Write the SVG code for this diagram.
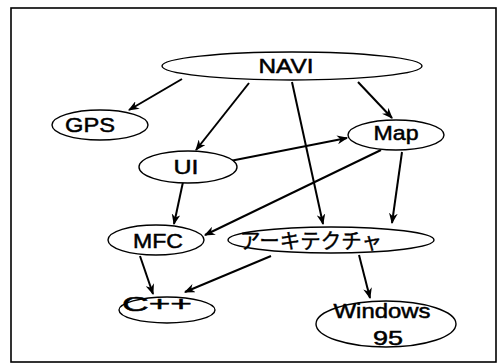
<svg xmlns="http://www.w3.org/2000/svg" width="498" height="364" viewBox="0 0 498 364">
<defs>
<marker id="ah" viewBox="0 0 10 8" refX="9" refY="4" markerWidth="11" markerHeight="9" markerUnits="userSpaceOnUse" orient="auto">
<path d="M0,0 L10,4 L0,8 L3,4 Z" fill="#000"/>
</marker>
</defs>
<style>
.n{fill:#fff;stroke:#000;stroke-width:1.4}
.t{font-family:"Liberation Sans",Arial,sans-serif;font-size:21px;fill:#000;stroke:#000;stroke-width:0.5;text-anchor:middle}
.j{font-family:"Noto Sans CJK JP","Liberation Sans",sans-serif;font-size:21px;fill:#000;stroke:#000;stroke-width:0.4;text-anchor:middle}
.e{stroke:#000;stroke-width:2;fill:none;marker-end:url(#ah)}
</style>
<rect x="11" y="8" width="485" height="354" fill="#fff" stroke="#000" stroke-width="1.6"/>
<g id="connectors">
<line class="e" x1="182" y1="79" x2="129" y2="110"/>
<line class="e" x1="249" y1="83" x2="196" y2="150"/>
<line class="e" x1="292" y1="82" x2="323" y2="224"/>
<line class="e" x1="358" y1="82" x2="392" y2="118"/>
<line class="e" x1="230" y1="161" x2="347" y2="138"/>
<line class="e" x1="381" y1="150" x2="205" y2="235"/>
<line class="e" x1="402" y1="152" x2="392" y2="223"/>
<line class="e" x1="183" y1="182" x2="174" y2="224"/>
<line class="e" x1="140" y1="256" x2="153" y2="294"/>
<line class="e" x1="271" y1="256" x2="185" y2="292"/>
<line class="e" x1="359" y1="255" x2="370" y2="298"/>
</g>
<g id="NAVI">
<ellipse class="n" cx="292" cy="66" rx="130" ry="14"/>
<text class="t" x="286" y="73" textLength="55" lengthAdjust="spacingAndGlyphs">NAVI</text>
</g>
<g id="GPS">
<ellipse class="n" cx="100" cy="125" rx="48" ry="15"/>
<text class="t" x="90" y="132" textLength="50" lengthAdjust="spacingAndGlyphs">GPS</text>
</g>
<g id="Map">
<ellipse class="n" cx="396" cy="135" rx="48" ry="15"/>
<text class="t" x="396" y="140" textLength="45" lengthAdjust="spacingAndGlyphs">Map</text>
</g>
<g id="UI">
<ellipse class="n" cx="188" cy="167" rx="49" ry="16"/>
<text class="t" x="186" y="174" textLength="25" lengthAdjust="spacingAndGlyphs">UI</text>
</g>
<g id="MFC">
<ellipse class="n" cx="156" cy="240" rx="48" ry="15"/>
<text class="t" x="158" y="248" textLength="50" lengthAdjust="spacingAndGlyphs">MFC</text>
</g>
<g id="Arch">
<ellipse class="n" cx="331" cy="240" rx="103" ry="13"/>
<text class="j" x="311" y="248" textLength="142" lengthAdjust="spacingAndGlyphs">アーキテクチャ</text>
</g>
<g id="Cpp">
<ellipse class="n" cx="167" cy="310" rx="48" ry="13"/>
<text class="t" x="157" y="311" textLength="70" lengthAdjust="spacingAndGlyphs">C++</text>
</g>
<g id="Windows95">
<ellipse class="n" cx="386" cy="324" rx="70" ry="23"/>
<text class="t" x="382" y="318" textLength="97" lengthAdjust="spacingAndGlyphs">Windows</text>
<text class="t" x="388" y="345" textLength="30" lengthAdjust="spacingAndGlyphs">95</text>
</g>
</svg>
